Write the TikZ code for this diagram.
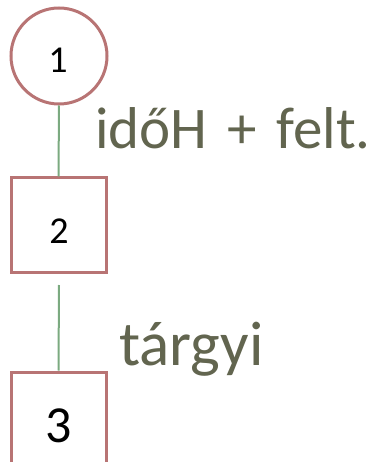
\documentclass[tikz,border=0pt]{standalone}
\usepackage{fontspec}
\setmainfont{Carlito}
\definecolor{boxred}{HTML}{B87474}
\definecolor{linegreen}{HTML}{7BAA80}
\definecolor{txtolive}{HTML}{62654F}
\tikzset{
  stepcirc/.style={circle,draw=boxred,line width=3pt,fill=white,minimum size=96pt,inner sep=0pt},
  stepbox/.style={rectangle,draw=boxred,line width=3pt,fill=white,minimum width=95pt,minimum height=94pt,inner sep=0pt},
  conn/.style={draw=linegreen,line width=2pt},
  lbl/.style={text=txtolive,inner sep=0pt,anchor=base west},
  num/.style={text=black,inner sep=0pt,anchor=base}
}
\begin{document}
\begin{tikzpicture}[x=1pt,y=-1pt]
\useasboundingbox (0,0) rectangle (371,462);
\node[stepcirc] (c1) at (59,56) {};
\node[stepbox] (b2) at (58.5,225) {};
\node[stepbox] (b3) at (58.5,419) {};
\coordinate (g2) at (59,285);
\draw[conn] (c1.south) -- (b2.north);
\draw[conn] (g2) -- (b3.north);
\node[num,font=\fontsize{38}{40}\selectfont] (n1) at (58,73) {1};
\node[num,font=\fontsize{38}{40}\selectfont] (n2) at (59,243) {2};
\node[num,font=\fontsize{52}{54}\selectfont] (n3) at (59,442) {3};
\node[lbl,font=\fontsize{59}{61}\selectfont] (l1) at (95,149) {időH\hspace{6.5pt} + \hspace{6.5pt}felt.};
\node[lbl,font=\fontsize{63}{65}\selectfont] (l2) at (119,365) {tárgyi};
\end{tikzpicture}
\end{document}
